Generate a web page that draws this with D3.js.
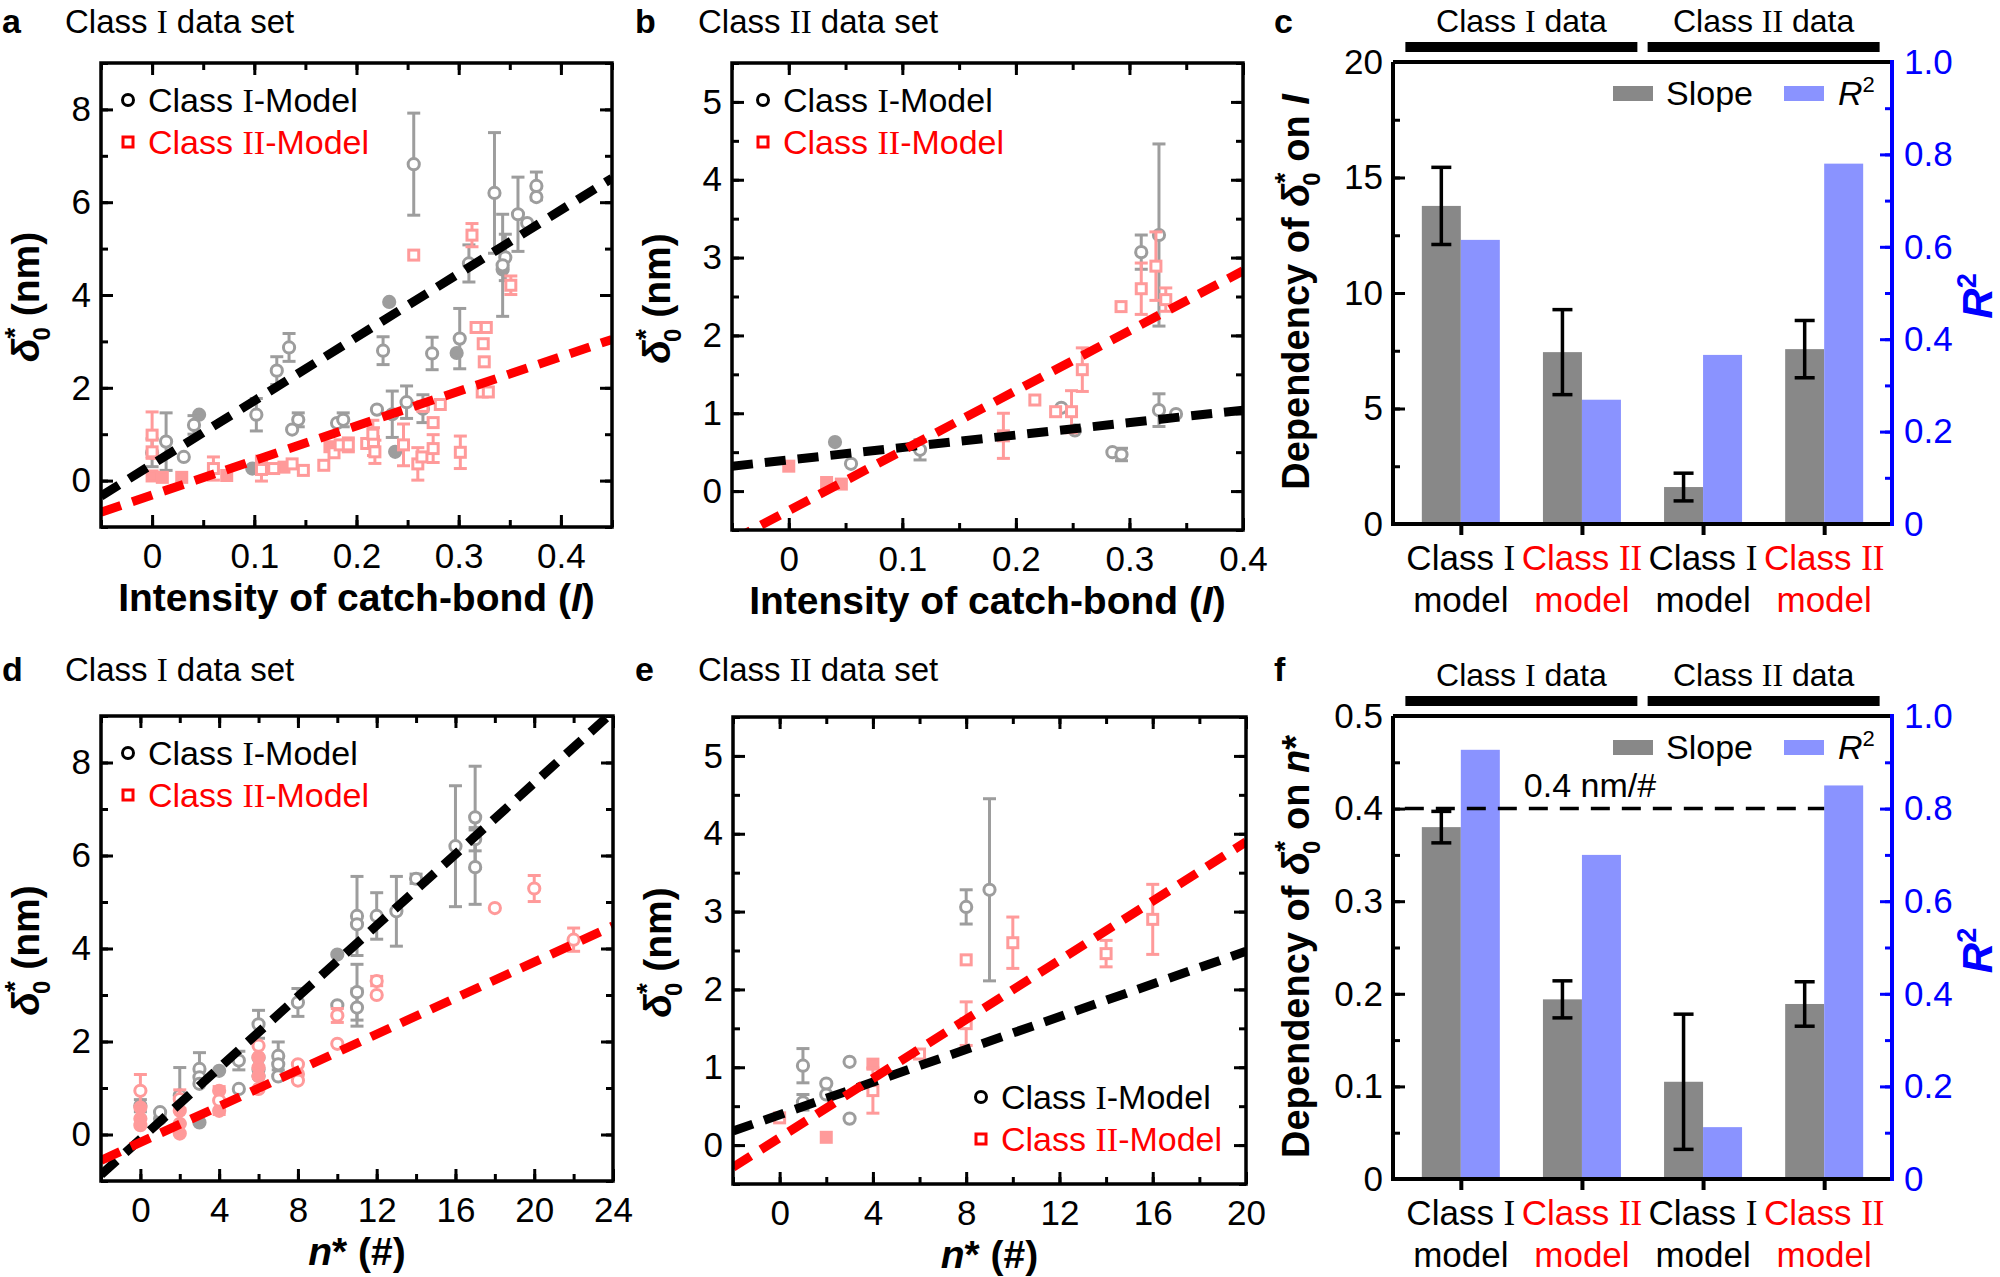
<!DOCTYPE html>
<html>
<head>
<meta charset="utf-8">
<script src="https://cdn.jsdelivr.net/npm/d3@7"></script>
<style>
  body { margin: 0; background: #fff; }
  text { font-family: "Liberation Sans", Arial, Helvetica, sans-serif; }
</style>
</head>
<body>
<svg id="fig" width="2000" height="1277"></svg>
<script>
// ---- data ----
// scatter points: [x, y, error]  (error 0 = no bar)

// a: Class I data set vs intensity I
const aModelI = [[0, 0.6, 0.3], [0.0137, 0.84, 0.62], [0.031, 0.51, 0], [0.041, 1.2, 0.2], [0.102, 1.42, 0.35],
  [0.122, 2.37, 0.3], [0.134, 2.87, 0.3], [0.137, 1.1, 0], [0.143, 1.31, 0.15], [0.181, 1.24, 0],
  [0.187, 1.31, 0.15], [0.22, 1.53, 0], [0.226, 2.8, 0.3], [0.235, 1.43, 0.5], [0.249, 1.69, 0.35],
  [0.256, 6.82, 1.1], [0.265, 1.55, 0.3], [0.274, 2.74, 0.35], [0.301, 3.06, 0.65], [0.31, 4.68, 0.4],
  [0.335, 6.2, 1.3], [0.3456, 4.81, 0.5], [0.343, 4.64, 1.1], [0.358, 5.74, 0.8], [0.367, 5.55, 0],
  [0.376, 6.35, 0.3], [0.376, 6.11, 0]];
const aModelIFilled = [[0.046, 1.42], [0.098, 0.26], [0.232, 3.85], [0.298, 2.75], [0.2378, 0.62], [0.343, 4.55]];
const aModelII = [[0, 0.98, 0.5], [0, 0.62, 0], [0.06, 0.26, 0.25], [0.107, 0.24, 0.25], [0.119, 0.26, 0],
  [0.137, 0.36, 0], [0.148, 0.22, 0], [0.168, 0.33, 0], [0.178, 0.6, 0], [0.184, 0.77, 0],
  [0.192, 0.77, 0.15], [0.21, 0.8, 0], [0.2166, 0.84, 0.3], [0.218, 0.62, 0.25], [0.216, 1.0, 0.3],
  [0.246, 0.77, 0.45], [0.26, 0.36, 0.35], [0.264, 0.51, 0], [0.275, 0.69, 0.3], [0.275, 1.25, 0],
  [0.265, 1.6, 0], [0.282, 1.64, 0], [0.3016, 0.61, 0.35], [0.256, 4.86, 0], [0.313, 5.29, 0.25],
  [0.351, 4.21, 0.2], [0.317, 3.3, 0], [0.327, 3.3, 0], [0.324, 2.95, 0], [0.325, 2.56, 0],
  [0.323, 1.91, 0], [0.329, 1.91, 0]];
const aModelIIFilled = [[0, 0.1], [0.01, 0.07], [0.029, 0.07], [0.073, 0.11], [0.107, 0.42], [0.129, 0.29], [0.174, 0.73]];
const aFits = [[0.35, 13.7], [-0.31, 7.45]];   // [intercept, slope] for Class I-, Class II-Model

// b: Class II data set vs intensity I
const bModelI = [[0.0548, 0.35, 0], [0.1156, 0.53, 0.13], [0.24, 1.07, 0], [0.252, 0.78, 0], [0.285, 0.5, 0],
  [0.293, 0.47, 0.08], [0.3104, 3.07, 0.22], [0.326, 3.29, 1.17], [0.326, 1.04, 0.21], [0.341, 0.99, 0]];
const bModelIFilled = [[0.0407, 0.63]];
const bModelII = [[0.189, 0.71, 0.29], [0.2167, 1.17, 0], [0.235, 1.02, 0], [0.249, 1.02, 0.27], [0.2585, 1.56, 0.28],
  [0.2926, 2.37, 0], [0.3104, 2.6, 0.33], [0.3233, 2.89, 0.44], [0.332, 2.46, 0.15]];
const bModelIIFilled = [[0, 0.32], [0.0333, 0.11], [0.0463, 0.09]];
const bFits = [[0.4, 1.6], [-0.25, 7.7]];

// d: Class I data set vs n*
const dModelI = [[0, 0.62, 0.13], [1, 0.48, 0], [2, 0.84, 0.6], [3, 1.41, 0.35], [3, 1.23, 0], [3, 1.09, 0],
  [5, 1.59, 0.2], [5, 0.98, 0], [6, 2.37, 0.3], [6, 1.65, 0], [6, 1.4, 0], [6, 1.26, 0], [7, 1.69, 0.3],
  [7, 1.51, 0], [7, 1.25, 0], [8, 2.84, 0.3], [10, 2.78, 0], [11, 4.7, 0.85], [11, 4.52, 0], [11, 3.06, 0.6],
  [11, 2.73, 0.4], [12, 4.7, 0.5], [13, 4.8, 0.75], [14, 5.5, 0.1], [16, 6.2, 1.3], [17, 6.82, 1.1],
  [17, 6.35, 0.25], [17, 5.75, 0.8]];
const dModelIFilled = [[1, 0.34], [3, 0.26], [4, 1.37], [10, 3.87]];
const dModelII = [[0, 0.94, 0.35], [2, 0.76, 0.2], [4, 0.73, 0.3], [6, 1.91, 0], [6, 0.98, 0], [8, 1.51, 0],
  [8, 1.16, 0], [10, 2.56, 0.15], [10, 1.95, 0], [12, 3.3, 0.1], [12, 3.0, 0], [18, 4.87, 0],
  [20, 5.29, 0.28], [22, 4.19, 0.25]];
const dModelIIFilled = [[0, 0.58], [0, 0.34], [0, 0.2], [2, 0.51], [2, 0.23], [2, 0.02], [4, 0.94], [4, 0.51],
  [6, 1.66], [6, 1.44], [6, 1.26], [8, 1.3]];
const dFits = [[-0.1, 0.383], [-0.17, 0.194]];

// e: Class II data set vs n*
const eModelI = [[1, 1.02, 0.22], [1, 0.55, 0.1], [2, 0.79, 0], [2, 0.65, 0], [3, 1.07, 0], [3, 0.34, 0],
  [8, 3.06, 0.22], [9, 3.28, 1.17]];
const eModelIFilled = [];
const eModelII = [[0, 0.35, 0], [4, 0.7, 0.29], [6, 1.17, 0], [8, 2.38, 0], [8, 1.56, 0.28], [10, 2.6, 0.33],
  [14, 2.46, 0.17], [16, 2.9, 0.45]];
const eModelIIFilled = [[2, 0.1], [4, 1.04]];
const eFits = [[0.39, 0.105], [0.095, 0.19]];

// c, f: slope of the fits and R^2
const barModels = ["Class I", "Class II", "Class I", "Class II"];
const dataGroups = ["Class I data", "Class II data"];
const cSlope = [13.77, 7.44, 1.6, 7.57];
const cSlopeErr = [1.67, 1.84, 0.6, 1.24];
const cR2 = [0.615, 0.269, 0.366, 0.78];
const fSlope = [0.38, 0.194, 0.105, 0.189];
const fSlopeErr = [0.017, 0.02, 0.073, 0.024];
const fR2 = [0.927, 0.70, 0.112, 0.85];
const fRefSlope = 0.4;

// ---- styling ----
const SERIF = '"Liberation Serif", "Times New Roman", serif';
const GRAY = "#9d9d9d", PINK = "#ff9a9a", RED = "#ff0000", BLUE = "#0000ff";
const BAR_GRAY = "#888888", BAR_BLUE = "#8a93ff";

const svg = d3.select("#fig");
const defs = svg.append("defs");

// roman numerals are set in a serif face in the figure
function addRoman(sel, str) {
  str.split(/(\bI{1,2}\b)/).forEach(part => {
    if (!part) return;
    const t = sel.append("tspan").text(part);
    if (/^I{1,2}$/.test(part)) t.attr("font-family", SERIF);
  });
  return sel;
}

function stepTicks(domain, step) {
  const s = Math.ceil(domain[0] / step - 1e-9), e = Math.floor(domain[1] / step + 1e-9);
  return d3.range(s, e + 1).map(i => +(i * step).toFixed(6));
}

function drawTicks(g, makeAxis, transform, major, minor, labels, pad, color, fmt) {
  const mg = g.append("g").attr("transform", transform)
    .call(makeAxis().tickValues(minor).tickSize(-7).tickFormat(""));
  const Mg = g.append("g").attr("transform", transform)
    .call(makeAxis().tickValues(major).tickSize(-12).tickPadding(pad)
      .tickFormat(labels ? (fmt || d3.format("~g")) : ""));
  [mg, Mg].forEach(a => {
    a.select(".domain").remove();
    a.attr("font-family", null).attr("font-size", 35);
    a.selectAll("line").attr("stroke", color || "#000").attr("stroke-width", 3);
    a.selectAll("text").attr("fill", color || "#000");
  });
}

function deltaLabel(t) {
  t.append("tspan").attr("font-style", "italic").text("δ");
  t.append("tspan").attr("font-size", 28).attr("dy", -15).text("*");
  t.append("tspan").attr("font-size", 24).attr("dx", -13).attr("dy", 26).text("0");
  return t;
}

function panelHeading(letter, title, x, y) {
  svg.append("text").attr("x", x).attr("y", y).attr("font-size", 34).attr("font-weight", "bold").text(letter);
  if (title) addRoman(svg.append("text").attr("x", x + 63).attr("y", y).attr("font-size", 33), title);
}

function marker(g, shape, cx, cy, color, filled) {
  if (shape === "circle") {
    g.append("circle").attr("cx", cx).attr("cy", cy).attr("r", 5.6)
      .attr("fill", filled ? color : "#fff").attr("stroke", color).attr("stroke-width", 3);
  } else {
    g.append("rect").attr("x", cx - 5).attr("y", cy - 5).attr("width", 10).attr("height", 10)
      .attr("fill", filled ? color : "#fff").attr("stroke", color).attr("stroke-width", 3);
  }
}

function scatterPanel(p) {
  const x = d3.scaleLinear().domain(p.xDomain).range([p.l, p.r]);
  const y = d3.scaleLinear().domain(p.yDomain).range([p.b, p.t]);
  const g = svg.append("g");
  const clipId = "clip-" + p.id;
  defs.append("clipPath").attr("id", clipId).append("rect")
    .attr("x", p.l).attr("y", p.t).attr("width", p.r - p.l).attr("height", p.b - p.t);

  const xMaj = stepTicks(p.xDomain, p.xStep), xMin = stepTicks(p.xDomain, p.xStep / 2);
  const yMaj = stepTicks(p.yDomain, p.yStep), yMin = stepTicks(p.yDomain, p.yStep / 2);
  drawTicks(g, () => d3.axisBottom(x), `translate(0,${p.b})`, xMaj, xMin, true, 16);
  drawTicks(g, () => d3.axisTop(x), `translate(0,${p.t})`, xMaj, xMin, false, 0);
  drawTicks(g, () => d3.axisLeft(y), `translate(${p.l},0)`, yMaj, yMin, true, 10);
  drawTicks(g, () => d3.axisRight(y), `translate(${p.r},0)`, yMaj, yMin, false, 0);

  // data: Class I-Model (gray circles) then Class II-Model (pink)
  const pts = g.append("g").attr("clip-path", `url(#${clipId})`);
  const series = [
    { open: p.modelI, filled: p.modelIFilled, color: GRAY, shape: "circle" },
    { open: p.modelII, filled: p.modelIIFilled, color: PINK, shape: p.pinkShape }
  ];
  series.forEach(s => {
    s.filled.forEach(d => marker(pts, s.shape, x(d[0]), y(d[1]), s.color, true));
    s.open.filter(d => d[2] > 0).forEach(d => {
      const cx = x(d[0]), lo = d[1] - d[2], hi = d[1] + d[2];
      pts.append("line").attr("x1", cx).attr("x2", cx).attr("y1", y(lo)).attr("y2", y(hi))
        .attr("stroke", s.color).attr("stroke-width", 3);
      [lo, hi].forEach(v => pts.append("line").attr("x1", cx - 6.5).attr("x2", cx + 6.5)
        .attr("y1", y(v)).attr("y2", y(v)).attr("stroke", s.color).attr("stroke-width", 3));
    });
    s.open.forEach(d => marker(pts, s.shape, x(d[0]), y(d[1]), s.color, false));
  });

  // linear fits
  const line = d3.line().x(d => x(d[0])).y(d => y(d[1]));
  p.fits.forEach((f, i) => {
    pts.append("path")
      .attr("d", line(p.xDomain.map(v => [v, f[0] + f[1] * v])))
      .attr("fill", "none").attr("stroke", i === 0 ? "#000" : RED)
      .attr("stroke-width", 9).attr("stroke-dasharray", "21,12");
  });

  // frame
  g.append("rect").attr("x", p.l).attr("y", p.t).attr("width", p.r - p.l).attr("height", p.b - p.t)
    .attr("fill", "none").attr("stroke", "#000").attr("stroke-width", 3.5);

  // legend
  const lg = g.append("g");
  [["Class I-Model", "#000", "circle"], ["Class II-Model", RED, "square"]].forEach((it, i) => {
    const cy = p.legY + i * 42;
    if (it[2] === "circle") {
      lg.append("circle").attr("cx", p.legX).attr("cy", cy).attr("r", 5.5)
        .attr("fill", "#fff").attr("stroke", it[1]).attr("stroke-width", 3);
    } else {
      lg.append("rect").attr("x", p.legX - 5).attr("y", cy - 5).attr("width", 10).attr("height", 10)
        .attr("fill", "#fff").attr("stroke", it[1]).attr("stroke-width", 3);
    }
    addRoman(lg.append("text").attr("x", p.legX + 20).attr("y", cy + 12)
      .attr("font-size", 34).attr("fill", it[1]), it[0]);
  });

  // axis titles
  const yt = g.append("text").attr("font-size", 39).attr("font-weight", "bold").attr("text-anchor", "middle")
    .attr("transform", `translate(${p.l - 62},${(p.t + p.b) / 2 + 2}) rotate(-90)`);
  deltaLabel(yt);
  yt.append("tspan").attr("dy", -11).text(" (nm)");

  const xt = g.append("text").attr("font-size", 39).attr("font-weight", "bold").attr("text-anchor", "middle")
    .attr("x", (p.l + p.r) / 2).attr("y", p.b + 84);
  if (p.xTitle === "I") {
    xt.append("tspan").text("Intensity of catch-bond (");
    xt.append("tspan").attr("font-style", "italic").text("I");
    xt.append("tspan").text(")");
  } else {
    xt.append("tspan").attr("font-style", "italic").text("n");
    xt.append("tspan").text("* (#)");
  }
}

function barPanel(p) {
  const n = p.slope.length;
  const x = d3.scalePoint().domain(d3.range(n)).range([p.l, p.r]).padding(0.56);
  const y = d3.scaleLinear().domain([0, p.yMax]).range([p.b, p.t]);
  const y2 = d3.scaleLinear().domain([0, 1]).range([p.b, p.t]);
  const bw = 39;
  const g = svg.append("g");

  // data-group brackets above the plot
  dataGroups.forEach((name, gi) => {
    const cx = (x(gi * 2) + x(gi * 2 + 1)) / 2;
    g.append("rect").attr("x", cx - 116).attr("y", p.t - 20).attr("width", 232).attr("height", 10).attr("fill", "#000");
    addRoman(g.append("text").attr("x", cx).attr("y", p.t - 30).attr("font-size", 32)
      .attr("text-anchor", "middle"), name);
  });

  // bars
  g.selectAll(".slope").data(p.slope).join("rect").attr("class", "slope")
    .attr("x", (d, i) => x(i) - bw).attr("y", d => y(d)).attr("width", bw).attr("height", d => p.b - y(d))
    .attr("fill", BAR_GRAY);
  g.selectAll(".r2").data(p.r2).join("rect").attr("class", "r2")
    .attr("x", (d, i) => x(i)).attr("y", d => y2(d)).attr("width", bw).attr("height", d => p.b - y2(d))
    .attr("fill", BAR_BLUE);
  p.slope.forEach((v, i) => {
    const cx = x(i) - bw / 2, lo = y(v - p.err[i]), hi = y(v + p.err[i]);
    g.append("line").attr("x1", cx).attr("x2", cx).attr("y1", lo).attr("y2", hi).attr("stroke", "#000").attr("stroke-width", 3.5);
    [lo, hi].forEach(yy => g.append("line").attr("x1", cx - 10).attr("x2", cx + 10).attr("y1", yy).attr("y2", yy)
      .attr("stroke", "#000").attr("stroke-width", 3.5));
  });

  // reference slope line (panel f)
  if (p.ref != null) {
    g.append("line").attr("x1", x(0) - bw - 17).attr("x2", x(3)).attr("y1", y(p.ref)).attr("y2", y(p.ref))
      .attr("stroke", "#000").attr("stroke-width", 3.5).attr("stroke-dasharray", "19,12");
    g.append("text").attr("x", x(1) + 8).attr("y", y(p.ref) - 12).attr("font-size", 34)
      .attr("text-anchor", "middle").text(p.ref + " nm/#");
  }

  // axes
  drawTicks(g, () => d3.axisLeft(y), `translate(${p.l},0)`, stepTicks([0, p.yMax], p.yStep),
    stepTicks([0, p.yMax], p.yStep / 2), true, 10);
  drawTicks(g, () => d3.axisRight(y2), `translate(${p.r},0)`, stepTicks([0, 1], 0.2),
    stepTicks([0, 1], 0.1), true, 12, BLUE, d => d === 0 ? "0" : d.toFixed(1));
  g.append("line").attr("x1", p.l).attr("x2", p.r).attr("y1", p.t).attr("y2", p.t).attr("stroke", "#000").attr("stroke-width", 4);
  g.append("line").attr("x1", p.l).attr("x2", p.l).attr("y1", p.t).attr("y2", p.b + 2).attr("stroke", "#000").attr("stroke-width", 4);
  g.append("line").attr("x1", p.r).attr("x2", p.r).attr("y1", p.t - 2).attr("y2", p.b + 2).attr("stroke", BLUE).attr("stroke-width", 4);
  const bx = g.append("g").attr("transform", `translate(0,${p.b})`)
    .call(d3.axisBottom(x).tickSize(11).tickFormat(""));
  bx.select(".domain").remove();
  bx.selectAll("line").attr("stroke", "#000").attr("stroke-width", 4);
  g.append("line").attr("x1", p.l - 2).attr("x2", p.r - 2).attr("y1", p.b).attr("y2", p.b).attr("stroke", "#000").attr("stroke-width", 4);

  // category labels
  barModels.forEach((m, i) => {
    const col = m === "Class II" ? RED : "#000";
    addRoman(g.append("text").attr("x", x(i)).attr("y", p.b + 46).attr("font-size", 35)
      .attr("text-anchor", "middle").attr("fill", col), m);
    g.append("text").attr("x", x(i)).attr("y", p.b + 88).attr("font-size", 35)
      .attr("text-anchor", "middle").attr("fill", col).text("model");
  });

  // legend
  const ly = p.t + 24;
  g.append("rect").attr("x", p.l + 220).attr("y", ly).attr("width", 40).attr("height", 15).attr("fill", BAR_GRAY);
  g.append("text").attr("x", p.l + 273).attr("y", ly + 19).attr("font-size", 34).text("Slope");
  g.append("rect").attr("x", p.l + 391).attr("y", ly).attr("width", 40).attr("height", 15).attr("fill", BAR_BLUE);
  const lr = g.append("text").attr("x", p.l + 445).attr("y", ly + 19).attr("font-size", 34);
  lr.append("tspan").attr("font-style", "italic").text("R");
  lr.append("tspan").attr("font-size", 22).attr("dy", -13).text("2");

  // axis titles
  const yt = g.append("text").attr("font-size", 38).attr("font-weight", "bold").attr("text-anchor", "middle")
    .attr("transform", `translate(${p.l - 84},${(p.t + p.b) / 2 - 1}) rotate(-90)`);
  yt.append("tspan").text("Dependency of ");
  deltaLabel(yt);
  yt.append("tspan").attr("dy", -11).text(" on ");
  if (p.on === "I") {
    yt.append("tspan").attr("font-style", "italic").text("I");
  } else {
    yt.append("tspan").attr("font-style", "italic").text("n");
    yt.append("tspan").text("*");
  }
  const rt = g.append("text").attr("font-size", 42).attr("font-weight", "bold").attr("fill", BLUE)
    .attr("text-anchor", "middle").attr("transform", `translate(${p.r + 100},${(p.t + p.b) / 2 + 3}) rotate(-90)`);
  rt.append("tspan").attr("font-style", "italic").text("R");
  rt.append("tspan").attr("font-size", 27).attr("dy", -16).text("2");
}

// ---- panels ----
panelHeading("a", "Class I data set", 2, 33);
scatterPanel({ id: "a", l: 101, r: 612, t: 63, b: 527, xDomain: [-0.05, 0.45], yDomain: [-1, 9],
  xStep: 0.1, yStep: 2, modelI: aModelI, modelIFilled: aModelIFilled, modelII: aModelII,
  modelIIFilled: aModelIIFilled, pinkShape: "square", fits: aFits, legX: 128, legY: 100, xTitle: "I" });

panelHeading("b", "Class II data set", 635, 33);
scatterPanel({ id: "b", l: 732, r: 1243, t: 63, b: 530, xDomain: [-0.05, 0.4], yDomain: [-0.5, 5.5],
  xStep: 0.1, yStep: 1, modelI: bModelI, modelIFilled: bModelIFilled, modelII: bModelII,
  modelIIFilled: bModelIIFilled, pinkShape: "square", fits: bFits, legX: 763, legY: 100, xTitle: "I" });

panelHeading("c", null, 1274, 33);
barPanel({ l: 1393, r: 1892, t: 62, b: 524, yMax: 20, yStep: 5, slope: cSlope, err: cSlopeErr, r2: cR2, on: "I" });

panelHeading("d", "Class I data set", 2, 681);
scatterPanel({ id: "d", l: 101, r: 613, t: 716, b: 1181, xDomain: [-2, 24], yDomain: [-1, 9],
  xStep: 4, yStep: 2, modelI: dModelI, modelIFilled: dModelIFilled, modelII: dModelII,
  modelIIFilled: dModelIIFilled, pinkShape: "circle", fits: dFits, legX: 128, legY: 753, xTitle: "n" });

panelHeading("e", "Class II data set", 635, 681);
scatterPanel({ id: "e", l: 733, r: 1246, t: 717, b: 1184, xDomain: [-2, 20], yDomain: [-0.5, 5.5],
  xStep: 4, yStep: 1, modelI: eModelI, modelIFilled: eModelIFilled, modelII: eModelII,
  modelIIFilled: eModelIIFilled, pinkShape: "square", fits: eFits, legX: 981, legY: 1097, xTitle: "n" });

panelHeading("f", null, 1274, 681);
barPanel({ l: 1393, r: 1892, t: 716, b: 1179, yMax: 0.5, yStep: 0.1, slope: fSlope, err: fSlopeErr, r2: fR2,
  on: "n", ref: fRefSlope });
</script>
</body>
</html>
